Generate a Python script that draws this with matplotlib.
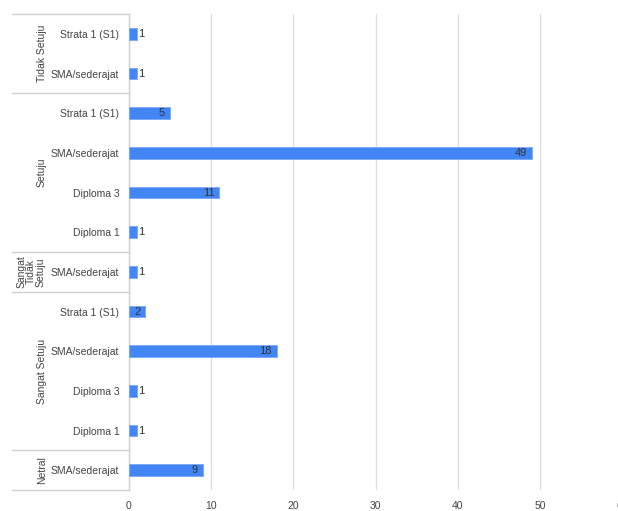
import numpy as np
import matplotlib.pyplot as plt

plt.rcParams['font.family'] = ['Liberation Sans', 'DejaVu Sans']

# --- Data (top to bottom) ---
groups = ['Tidak Setuju', 'Setuju', 'Sangat\nTidak\nSetuju', 'Sangat Setuju', 'Netral']
group_items = [
    ['Strata 1 (S1)', 'SMA/sederajat'],
    ['Strata 1 (S1)', 'SMA/sederajat', 'Diploma 3', 'Diploma 1'],
    ['SMA/sederajat'],
    ['Strata 1 (S1)', 'SMA/sederajat', 'Diploma 3', 'Diploma 1'],
    ['SMA/sederajat'],
]
group_values = [
    [1, 1],
    [5, 49, 11, 1],
    [1],
    [2, 18, 1, 1],
    [9],
]
xticks = [0, 10, 20, 30, 40, 50, 60]

labels = [l for g in group_items for l in g]
values = [v for g in group_values for v in g]
n = len(values)
y = np.arange(n)

fig = plt.figure(figsize=(6.18, 5.11), dpi=100)
W, H = 618, 511
left, right, top, bottom = 129, 622, 14, 490
ax = fig.add_axes([left / W, 1 - bottom / H, (right - left) / W, (bottom - top) / H])

ax.barh(y, values, height=0.3, color='#4285F4', edgecolor='#7aa7f7', linewidth=0.6, zorder=3)
ax.set_ylim(n - 0.5, -0.5)
ax.set_xlim(0, 60)
ax.set_xticks(xticks)
ax.set_xticklabels([str(t) for t in xticks], fontsize=7.5, color='#444444')
ax.set_yticks(y)
ax.set_yticklabels(labels, fontsize=7.5, color='#444444')
ax.tick_params(axis='y', length=0, pad=7)
ax.tick_params(axis='x', length=0, pad=8)
ax.grid(axis='x', color='#e0e0e0', linewidth=1, zorder=0)
for s in ['top', 'right', 'bottom']:
    ax.spines[s].set_visible(False)
ax.spines['left'].set_color('#d0d0d0')
ax.spines['left'].set_linewidth(1)

# value labels
for yi, v in zip(y, values):
    if v >= 2:
        ax.text(v - 0.6, yi, str(v), ha='right', va='center', fontsize=8, color='#333333', zorder=4)
    else:
        ax.text(v + 0.05, yi, str(v), ha='left', va='center', fontsize=8, color='#333333', zorder=4)

# group separators and labels
trans = ax.get_yaxis_transform()
x0 = (12 - left) / (right - left)
start = 0
ax.plot([x0, 0], [-0.5, -0.5], transform=trans, color='#d0d0d0', lw=1, clip_on=False)
for g, items in zip(groups, group_items):
    end = start + len(items)
    ax.plot([x0, 0], [end - 0.5, end - 0.5], transform=trans, color='#d0d0d0', lw=1, clip_on=False)
    mid = (start + end - 1) / 2
    xl = (42 - left) / (right - left) if '\n' not in g else (31 - left) / (right - left)
    ax.text(xl, mid, g, transform=trans, rotation=90, ha='center', va='center',
            fontsize=7.5, color='#444444', linespacing=0.95, multialignment='center')
    start = end

fig.savefig('out.png', dpi=100)
